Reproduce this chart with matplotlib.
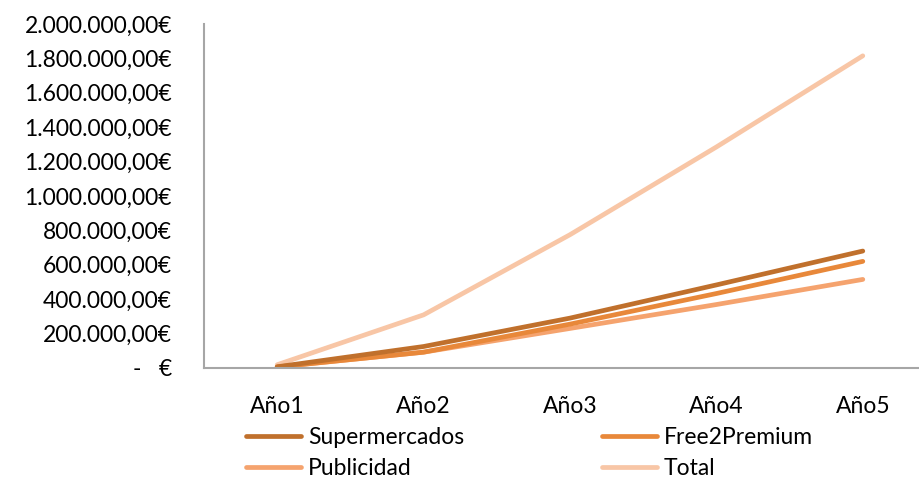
import matplotlib
matplotlib.use('Agg')
import matplotlib.pyplot as plt
from matplotlib.ticker import FuncFormatter

years = ['Año1', 'Año2', 'Año3', 'Año4', 'Año5']
supermercados = [7000, 125000, 290000, 483000, 680000]
free2premium = [6000, 92000, 255000, 433000, 620000]
publicidad = [6000, 92000, 230000, 369000, 515000]
total = [19000, 309000, 775000, 1285000, 1815000]

series = [
    ('Supermercados', supermercados, '#C0702C'),
    ('Free2Premium', free2premium, '#E8883A'),
    ('Publicidad', publicidad, '#F5A36E'),
    ('Total', total, '#F8C6A6'),
]

plt.rcParams['font.family'] = ['Lato', 'DejaVu Sans']
FS = 16.5


def euro(v, pos):
    if v == 0:
        return '-   €'
    s = f'{v:,.2f}'.replace(',', 'X').replace('.', ',').replace('X', '.')
    return s + '€'


fig = plt.figure(figsize=(9.2, 4.8), dpi=100)
ax = fig.add_axes([204 / 920, 112 / 480, 732 / 920, 344 / 480])

x = list(range(1, len(years) + 1))
lines = {}
# draw Total first so the components sit on top
for name, vals, color in reversed(series):
    lines[name], = ax.plot(x, vals, color=color, lw=3.4, solid_capstyle='round', label=name)

ax.set_xlim(0.5, 5.5)
ax.set_ylim(0, 2000000)
ax.set_yticks(range(0, 2000001, 200000))
ax.yaxis.set_major_formatter(FuncFormatter(euro))
ax.set_xticks(x)
ax.set_xticklabels(years)
ax.tick_params(axis='both', length=0, labelsize=FS, colors='#000000')
ax.tick_params(axis='y', pad=23)
ax.tick_params(axis='x', pad=20)

for side in ('top', 'right'):
    ax.spines[side].set_visible(False)
for side in ('left', 'bottom'):
    ax.spines[side].set_color('#A6A6A6')
    ax.spines[side].set_linewidth(1.5)

# legend is filled column by column, so list it as col1 then col2
legend_order = ['Supermercados', 'Publicidad', 'Free2Premium', 'Total']
fig.legend([lines[n] for n in legend_order], legend_order,
           loc='upper left', bbox_to_anchor=(246 / 920, 53 / 480),
           ncol=2, frameon=False, fontsize=FS, handlelength=2.4, handletextpad=0.3,
           columnspacing=6.0, labelspacing=0.45, borderaxespad=0, borderpad=0)

fig.savefig('out.png', dpi=100)
